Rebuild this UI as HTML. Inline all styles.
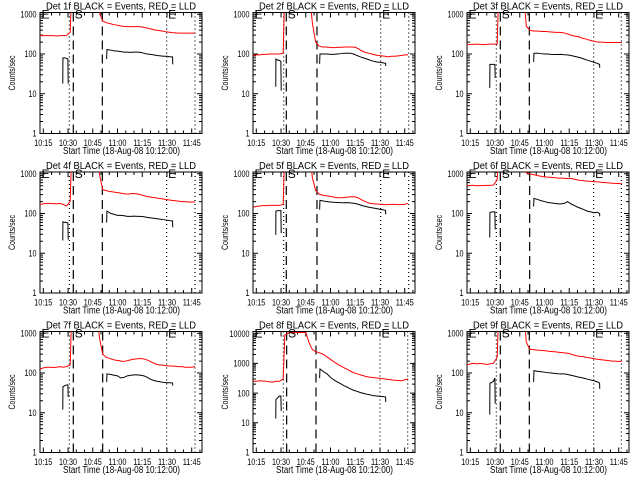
<!DOCTYPE html>
<html><head><meta charset="utf-8"><title>Det count rates</title>
<style>
html,body{margin:0;padding:0;background:#fff;}
svg{display:block;}
text{font-family:"Liberation Sans",sans-serif;fill:#000;}
</style></head>
<body>
<svg id="chart" xmlns="http://www.w3.org/2000/svg" width="640" height="480" viewBox="0 0 640 480">
<rect x="0" y="0" width="640" height="480" fill="#fff"/>
</svg>
<script>
const panelNames = ['1f','2f','3f','4f','5f','6f','7f','8f','9f'];
const xTickLabels = ['10:15','10:30','10:45','11:00','11:15','11:30','11:45'];
const xTickMinutes = [15,30,45,60,75,90,105];
const redTimes = [13,15,17,19,21,23,25,27,29,31.3,32.3,35,37,39,41,43,45,47,49,51,53,55,57,59,61,63,65,67,69,71,73,75,77,79,81,83,85,87,89,91,93,95,97,99,101,103,105,107];
const blackPreTimes = [26.8,26.9,28,29,29.9,30.1];
const blackPostTimes = [53.4,53.6,56,58,60,62,64,66,68,70,72,74,76,78,80,82,84,86,88,90,92,93.4,93.5];

const red1 = [290,290,290,290,290,285,290,290,295,350,5000,5000,5000,5000,5000,5000,5000,5000,1100,680,620,590,560,540,520,500,490,490,490,490,490,480,460,440,420,400,390,380,365,355,345,340,335,335,335,335,335,335];
const red2 = [92,95,95,98,98,100,100,100,100,105,5000,5000,5000,5000,5000,5000,5000,5000,600,200,160,150,150,148,145,145,148,148,150,150,150,148,135,120,110,105,100,95,92,90,88,85,88,88,90,92,95,95];
const red3 = [170,175,175,178,175,172,175,178,178,180,5000,5000,5000,5000,5000,5000,5000,5000,500,400,380,380,375,370,370,360,355,350,350,345,330,310,290,280,270,250,240,225,215,205,200,200,195,195,195,195,195,195];
const red4 = [170,175,180,180,178,175,180,170,155,200,5000,5000,5000,5000,5000,5000,5000,5000,1000,400,380,360,350,340,330,320,310,310,320,315,305,290,275,265,255,250,240,235,225,220,215,210,205,200,200,195,195,195];
const red5 = [145,150,155,158,158,160,160,160,160,170,5000,5000,5000,5000,5000,5000,5000,5000,800,380,310,290,280,275,265,255,250,250,255,260,265,262,245,220,200,185,178,175,172,170,168,168,170,170,168,168,170,180];
const red6 = [500,510,510,500,505,505,510,510,520,700,5000,5000,5000,5000,5000,5000,5000,5000,1050,1000,960,920,880,850,830,820,810,790,780,780,760,770,750,720,690,680,660,650,640,630,620,610,600,590,580,575,570,560];
const red7 = [125,135,140,140,138,140,145,140,145,160,5000,5000,5000,5000,5000,5000,5000,5000,800,300,250,235,220,210,205,195,200,210,220,225,230,230,220,205,185,170,160,158,155,150,150,148,145,145,140,140,140,145];
const red8 = [250,250,260,255,250,240,235,250,250,300,9000,11000,11000,11000,11000,11000,11000,5000,2900,2500,2300,2100,1800,1500,1250,1050,900,780,680,600,520,470,430,400,370,350,340,330,320,310,300,290,280,270,265,260,280,300];
const red9 = [160,170,175,170,175,170,165,170,175,250,5000,5000,5000,5000,5000,5000,5000,5000,600,400,390,380,375,370,360,350,345,340,330,325,320,310,290,275,265,260,250,240,235,225,220,215,210,205,200,200,195,200];

const blackPre1 = [18,80,80,78,75,18];
const blackPre2 = [15,75,70,70,65,12];
const blackPre3 = [14,55,55,55,55,25];
const blackPre4 = [21,62,60,60,58,22];
const blackPre5 = [29,115,118,118,118,32];
const blackPre6 = [25,105,110,110,110,40];
const blackPre7 = [12,45,48,50,50,25];
const blackPre8 = [14,60,70,80,80,25];
const blackPre9 = [9,55,58,62,75,17];

const blackPost1 = [75,130,125,120,118,115,112,112,110,112,112,110,105,100,98,95,92,90,88,88,85,85,55];
const blackPost2 = [57,100,100,100,98,98,100,102,105,105,105,100,92,85,80,75,70,66,63,62,60,58,50];
const blackPost3 = [63,105,105,102,100,100,98,97,97,98,96,95,92,88,84,80,75,70,66,62,58,55,45];
const blackPost4 = [59,115,100,95,90,90,88,85,85,86,85,85,83,80,78,76,74,72,70,68,66,65,45];
const blackPost5 = [125,215,205,200,195,192,190,188,187,188,186,182,175,165,155,148,142,138,133,128,124,120,95];
const blackPost6 = [150,240,225,210,200,190,185,180,175,175,180,200,175,160,145,135,125,115,110,105,108,100,85];
const blackPost7 = [59,95,92,88,85,75,78,85,88,90,90,88,85,78,70,65,62,60,58,57,57,56,48];
const blackPost8 = [320,650,520,440,340,280,240,210,180,160,140,125,115,105,98,92,87,82,80,78,76,74,50];
const blackPost9 = [59,115,110,108,105,102,100,98,96,95,95,92,88,84,80,77,74,70,67,64,60,56,40];

const yMaxes = [1110,1110,1110,1110,1110,1110,1110,11900,1110];
const dottedStartTimes = [30.8,31.6,30.8,30.8,31.6,30.8,30.8,31.4,30.8];
const dashedStartTimes = [33.2,33.2,33.2,33.2,33.2,33.2,33.2,33.4,33.2];
const dashedEndTimes = [50.8,51.8,50.8,50.8,51.8,51.0,51.0,51.2,50.8];
const dottedEndTimes = [89.8,90.4,89.8,89.8,90.4,89.8,89.8,90.0,89.8];
const dottedLastTimes = [107,107.4,106.6,107,107.4,106.6,107,106.8,106.6];

const reds = [red1,red2,red3,red4,red5,red6,red7,red8,red9];
const blackPres = [blackPre1,blackPre2,blackPre3,blackPre4,blackPre5,blackPre6,blackPre7,blackPre8,blackPre9];
const blackPosts = [blackPost1,blackPost2,blackPost3,blackPost4,blackPost5,blackPost6,blackPost7,blackPost8,blackPost9];

const NS = 'http://www.w3.org/2000/svg';
const svg = document.getElementById('chart');
const colOffsets = [0,213,427];
const rowOffsets = [0,159.5,319];
const BOX_L = 40, BOX_W = 162, BOX_T = 12.5, BOX_H = 121;
const X_MIN = 13, X_MAX = 13 + 162/1.649;

function mk(tag, attrs, parent){
  const el = document.createElementNS(NS, tag);
  for (const k in attrs) el.setAttribute(k, attrs[k]);
  parent.appendChild(el);
  return el;
}

for (let p = 0; p < 9; p++) {
  const ox = colOffsets[p % 3], oy = rowOffsets[Math.floor(p / 3)];
  const L = ox + BOX_L, R = L + BOX_W, T = oy + BOX_T, B = T + BOX_H;
  const yMax = yMaxes[p];
  const xScale = t => L + (t - X_MIN) / (X_MAX - X_MIN) * BOX_W;
  const yScale = v => B - Math.log10(v) / Math.log10(yMax) * BOX_H;

  const g = mk('g', {}, svg);
  
  

  const clip = mk('clipPath', {id: 'clip' + p}, g);
  mk('rect', {x: L, y: T, width: BOX_W, height: BOX_H}, clip);

  const title = mk('text', {x: L + BOX_W/2, y: oy + 9.5, 'font-size': 10, 'text-anchor': 'middle', textLength: 150, lengthAdjust: 'spacingAndGlyphs'}, g);
  title.textContent = 'Det ' + panelNames[p] + ' BLACK = Events, RED = LLD';
  
  

  const yt = mk('text', {x: 0, y: 0, 'font-size': 9, 'text-anchor': 'middle', textLength: 35, lengthAdjust: 'spacingAndGlyphs', transform: 'translate(' + (ox + 15) + ',' + (T + BOX_H/2) + ') rotate(-90)'}, g);
  yt.textContent = 'Counts/sec';
  
  

  const xt = mk('text', {x: L + BOX_W/2 + 0.5, y: oy + 154, 'font-size': 10, 'text-anchor': 'middle', textLength: 117, lengthAdjust: 'spacingAndGlyphs'}, g);
  xt.textContent = 'Start Time (18-Aug-08 10:12:00)';
  
  

  for (let m = 15; m <= 110; m += 5) {
    const x = xScale(m);
    const major = (m % 15 === 0);
    const len = major ? 5 : 3;
    const tk = mk('path', {d: 'M' + x + ' ' + B + 'V' + (B - len) + 'M' + x + ' ' + T + 'V' + (T + len), stroke: '#000', 'stroke-width': 1, fill: 'none'}, g);
    
    
  }
  xTickLabels.forEach((lab, i) => {
    const tl = mk('text', {x: xScale(xTickMinutes[i]), y: oy + 146, 'font-size': 9.5, 'text-anchor': 'middle', textLength: 18, lengthAdjust: 'spacingAndGlyphs'}, g);
    tl.textContent = lab;
    
    
  });

  const decades = Math.floor(Math.log10(yMax));
  for (let d = 0; d <= decades; d++) {
    for (let k = 1; k <= 9; k++) {
      const v = k * Math.pow(10, d);
      if (v > yMax) break;
      const y = yScale(v);
      const len = (k === 1) ? 5 : 3;
      const tk = mk('path', {d: 'M' + L + ' ' + y + 'H' + (L + len) + 'M' + R + ' ' + y + 'H' + (R - len), stroke: '#000', 'stroke-width': 1, fill: 'none'}, g);
      
      
    }
    const lab = String(Math.pow(10, d));
    const yl = mk('text', {x: L - 3.5, y: yScale(Math.pow(10, d)) + 3.2, 'font-size': 9, 'text-anchor': 'end', textLength: lab.length * 4, lengthAdjust: 'spacingAndGlyphs'}, g);
    yl.textContent = lab;
    
    
  }

  const frame = mk('rect', {x: L, y: T, width: BOX_W, height: BOX_H, fill: 'none', stroke: '#000', 'stroke-width': 1}, g);
  
  

  const vlines = [
    [dottedStartTimes[p], '1,3', 'dotted-start-line'],
    [dashedStartTimes[p], '9,5', 'dashed-start-line'],
    [dashedEndTimes[p], '9,5', 'dashed-end-line'],
    [dottedEndTimes[p], '1,3', 'dotted-end-line'],
    [dottedLastTimes[p], '1,3', 'dotted-last-line']
  ];
  vlines.forEach(v => {
    const x = xScale(v[0]);
    const ln = mk('line', {x1: x, y1: T, x2: x, y2: B, stroke: '#000', 'stroke-width': 1.2, 'stroke-dasharray': v[1]}, g);
    
    
  });

  const rp = reds[p].map((v, i) => xScale(redTimes[i]).toFixed(2) + ',' + yScale(v).toFixed(2)).join(' ');
  const redLine = mk('polyline', {points: rp, fill: 'none', stroke: '#ff0000', 'stroke-width': 1, 'clip-path': 'url(#clip' + p + ')'}, g);
  
  

  const bp1 = blackPres[p].map((v, i) => xScale(blackPreTimes[i]).toFixed(2) + ',' + yScale(v).toFixed(2)).join(' ');
  const blackPre = mk('polyline', {points: bp1, fill: 'none', stroke: '#000', 'stroke-width': 1, 'clip-path': 'url(#clip' + p + ')'}, g);
  
  
  const bp2 = blackPosts[p].map((v, i) => xScale(blackPostTimes[i]).toFixed(2) + ',' + yScale(v).toFixed(2)).join(' ');
  const blackPost = mk('polyline', {points: bp2, fill: 'none', stroke: '#000', 'stroke-width': 1, 'clip-path': 'url(#clip' + p + ')'}, g);
  
  

  const marks = [[L + 1.5, 'E', 'marker-e-start'], [xScale(dashedStartTimes[p]) + 1.5, 'S', 'marker-s'], [xScale(dottedEndTimes[p]) + 1.5, 'E', 'marker-e-end']];
  marks.forEach(m => {
    const t = mk('text', {x: m[0], y: T + 6, 'font-size': 12}, g);
    t.textContent = m[1];
    
    
  });
}
</script>
</body></html>
